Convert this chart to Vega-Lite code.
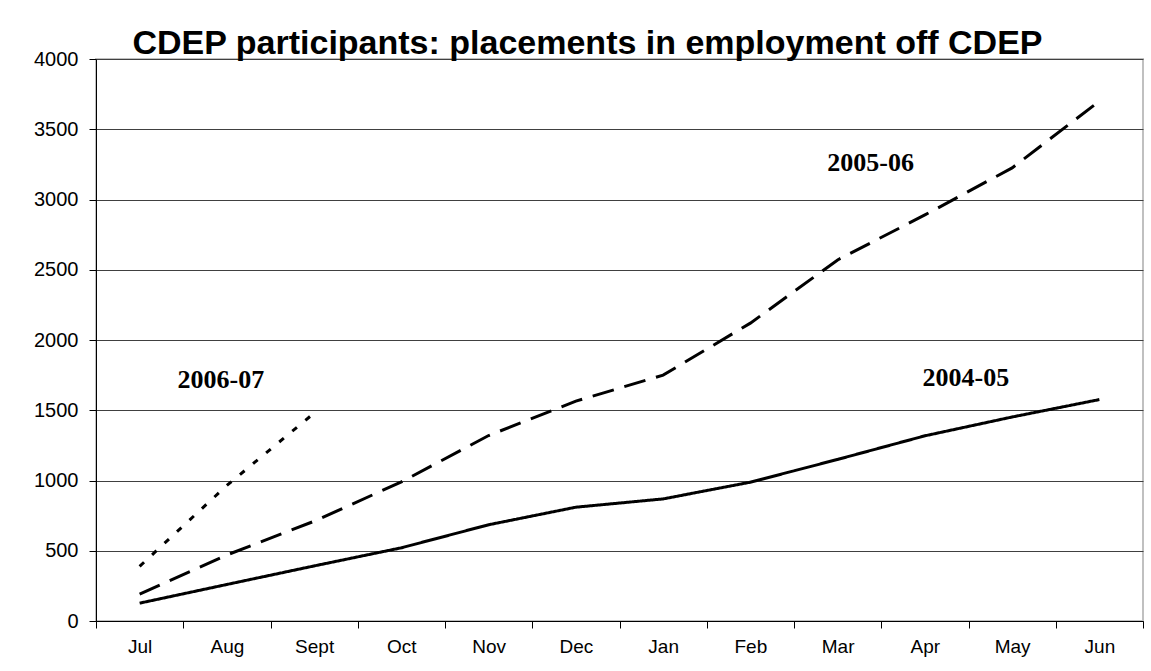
{
  "$schema": "https://vega.github.io/schema/vega-lite/v6.json",
  "autosize": {"type": "none"},
  "width": 1047,
  "height": 562,
  "padding": {"left": 96, "top": 59, "right": 8, "bottom": 50},
  "background": "white",
  "title": {
    "text": "CDEP participants: placements in employment off CDEP",
    "font": "Liberation Sans",
    "fontSize": 34,
    "fontWeight": "bold",
    "color": "black",
    "anchor": "middle",
    "dx": -32,
    "offset": -12
  },
  "config": {
    "view": {"stroke": "#c0c0c0", "strokeWidth": 2},
    "axis": {"labelFont": "Liberation Sans", "labelColor": "black", "tickColor": "black", "domainColor": "black"}
  },
  "datasets": {
    "series": [
      {"month": "Jul", "year": "2004-05", "value": 127},
      {"month": "Aug", "year": "2004-05", "value": 260},
      {"month": "Sept", "year": "2004-05", "value": 392},
      {"month": "Oct", "year": "2004-05", "value": 521},
      {"month": "Nov", "year": "2004-05", "value": 685},
      {"month": "Dec", "year": "2004-05", "value": 810},
      {"month": "Jan", "year": "2004-05", "value": 869},
      {"month": "Feb", "year": "2004-05", "value": 988},
      {"month": "Mar", "year": "2004-05", "value": 1150},
      {"month": "Apr", "year": "2004-05", "value": 1318},
      {"month": "May", "year": "2004-05", "value": 1452},
      {"month": "Jun", "year": "2004-05", "value": 1576},
      {"month": "Jul", "year": "2005-06", "value": 192},
      {"month": "Aug", "year": "2005-06", "value": 470},
      {"month": "Sept", "year": "2005-06", "value": 710},
      {"month": "Oct", "year": "2005-06", "value": 990},
      {"month": "Nov", "year": "2005-06", "value": 1320},
      {"month": "Dec", "year": "2005-06", "value": 1565},
      {"month": "Jan", "year": "2005-06", "value": 1750},
      {"month": "Feb", "year": "2005-06", "value": 2120},
      {"month": "Mar", "year": "2005-06", "value": 2570},
      {"month": "Apr", "year": "2005-06", "value": 2890},
      {"month": "May", "year": "2005-06", "value": 3225},
      {"month": "Jun", "year": "2005-06", "value": 3700},
      {"month": "Jul", "year": "2006-07", "value": 389},
      {"month": "Aug", "year": "2006-07", "value": 965},
      {"month": "Sept", "year": "2006-07", "value": 1480}
    ]
  },
  "layer": [
    {
      "data": {"name": "series"},
      "mark": {"type": "line", "strokeWidth": 3, "color": "black", "strokeCap": "butt"},
      "encoding": {
        "x": {
          "field": "month", "type": "nominal",
          "sort": ["Jul","Aug","Sept","Oct","Nov","Dec","Jan","Feb","Mar","Apr","May","Jun"],
          "scale": {"domain": ["Jul","Aug","Sept","Oct","Nov","Dec","Jan","Feb","Mar","Apr","May","Jun"], "paddingInner": 0, "paddingOuter": 0},
          "axis": {"title": null, "labelAngle": 0, "labelFontSize": 19, "tickBand": "extent", "tickSize": 7, "labelPadding": 9, "grid": false, "domainWidth": 1}
        },
        "y": {
          "field": "value", "type": "quantitative",
          "scale": {"domain": [0, 4000], "nice": false},
          "axis": {"title": null, "values": [0,500,1000,1500,2000,2500,3000,3500,4000], "format": "d", "labelFontSize": 20, "tickSize": 7, "labelPadding": 11, "grid": true, "gridColor": "#404040", "gridWidth": 1, "domainWidth": 1}
        },
        "detail": {"field": "year"},
        "strokeDash": {
          "field": "year", "type": "nominal",
          "scale": {"domain": ["2004-05","2005-06","2006-07"], "range": [[1,0],[22,11],[6,11]]},
          "legend": null
        }
      }
    },
    {
      "data": {"values": [{"label": "2006-07", "month": "Aug", "value": 1715}]},
      "mark": {"type": "text", "font": "Liberation Serif", "fontWeight": "bold", "fontSize": 26, "color": "black", "dx": -6, "baseline": "middle"},
      "encoding": {"x": {"field": "month", "type": "nominal", "sort": ["Jul","Aug","Sept","Oct","Nov","Dec","Jan","Feb","Mar","Apr","May","Jun"]}, "y": {"field": "value", "type": "quantitative"}, "text": {"field": "label"}}
    },
    {
      "data": {"values": [{"label": "2005-06", "month": "Mar", "value": 3260}]},
      "mark": {"type": "text", "font": "Liberation Serif", "fontWeight": "bold", "fontSize": 26, "color": "black", "dx": 33, "baseline": "middle"},
      "encoding": {"x": {"field": "month", "type": "nominal", "sort": ["Jul","Aug","Sept","Oct","Nov","Dec","Jan","Feb","Mar","Apr","May","Jun"]}, "y": {"field": "value", "type": "quantitative"}, "text": {"field": "label"}}
    },
    {
      "data": {"values": [{"label": "2004-05", "month": "Apr", "value": 1730}]},
      "mark": {"type": "text", "font": "Liberation Serif", "fontWeight": "bold", "fontSize": 26, "color": "black", "dx": 41, "baseline": "middle"},
      "encoding": {"x": {"field": "month", "type": "nominal", "sort": ["Jul","Aug","Sept","Oct","Nov","Dec","Jan","Feb","Mar","Apr","May","Jun"]}, "y": {"field": "value", "type": "quantitative"}, "text": {"field": "label"}}
    }
  ]
}
